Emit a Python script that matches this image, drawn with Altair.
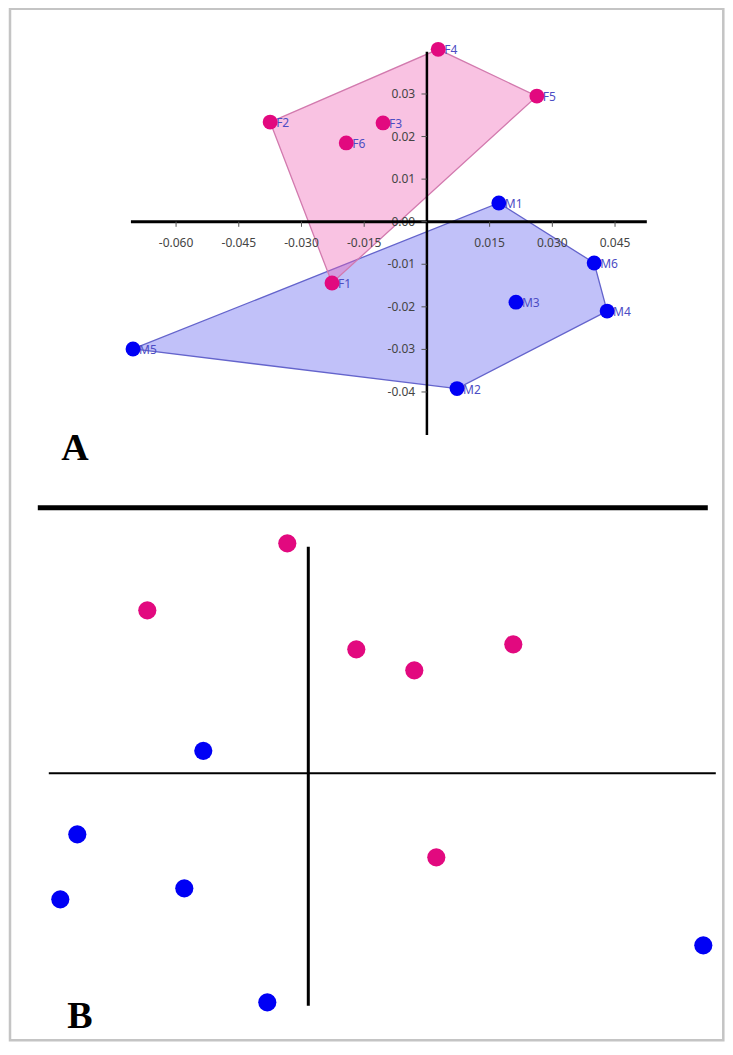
import altair as alt
import pandas as pd

# ---------------- Panel A data (PCA scores) ----------------
a_names = ["F1", "F2", "F3", "F4", "F5", "F6", "M1", "M2", "M3", "M4", "M5", "M6"]
a_x = [-0.0227, -0.0375, -0.0105, 0.0027, 0.0263, -0.0193,
       0.0172, 0.0072, 0.0213, 0.0431, -0.0703, 0.0400]
a_y = [-0.0144, 0.0234, 0.0232, 0.0405, 0.0295, 0.0185,
       0.0044, -0.0392, -0.0189, -0.0210, -0.0299, -0.0097]

pink_hull = ["F2", "F4", "F5", "F1", "F2"]
blue_hull = ["M5", "M1", "M6", "M4", "M2", "M5"]

a_xticks = [-0.060, -0.045, -0.030, -0.015, 0.015, 0.030, 0.045]
a_xtick_labels = ["-0.060", "-0.045", "-0.030", "-0.015", "0.015", "0.030", "0.045"]
a_yticks = [0.03, 0.02, 0.01, 0.00, -0.01, -0.02, -0.03, -0.04]
a_ytick_labels = ["0.03", "0.02", "0.01", "0.00", "-0.01", "-0.02", "-0.03", "-0.04"]

a_xaxis_extent = [-0.0708, 0.0526]
a_yaxis_extent = [-0.0501, 0.0399]

# ---------------- Panel B data ----------------
b_f_x = [-0.42, -3.22, 0.96, 2.12, 4.10, 2.56]
b_f_y = [4.60, 3.26, 2.48, 2.06, 2.58, -1.68]
b_m_x = [-2.10, -4.62, -4.96, -2.48, -0.82, 7.90]
b_m_y = [0.45, -1.22, -2.52, -2.30, -4.58, -3.44]

b_xaxis_extent = [-5.19, 8.15]
b_yaxis_extent = [-4.65, 4.53]

# ---------------- scales ----------------
W, H = 717, 1034
AX = alt.Scale(domain=[-0.1002, 0.0713], nice=False, zero=False)
AY = alt.Scale(domain=[-0.1927, 0.0502], nice=False, zero=False)
BX = alt.Scale(domain=[-6.006, 8.334], nice=False, zero=False)
BY = alt.Scale(domain=[-5.374, 15.306], nice=False, zero=False)

PINK = "#e2097f"
BLUE = "#0000f5"


def ax(f):
    return alt.X(f, type="quantitative", scale=AX, axis=None)


def ay(f):
    return alt.Y(f, type="quantitative", scale=AY, axis=None)


def bx(f):
    return alt.X(f, type="quantitative", scale=BX, axis=None)


def by(f):
    return alt.Y(f, type="quantitative", scale=BY, axis=None)


pts = pd.DataFrame({"name": a_names, "x": a_x, "y": a_y})
pts["grp"] = pts["name"].str[0]
lookup = {n: (x, y) for n, x, y in zip(a_names, a_x, a_y)}


def hull_df(order):
    return pd.DataFrame({
        "i": list(range(len(order))),
        "x": [lookup[n][0] for n in order],
        "y": [lookup[n][1] for n in order],
    })


blue_poly = alt.Chart(hull_df(blue_hull)).mark_line(
    fill="#5b5bf0", fillOpacity=0.38, stroke="#6464cc", strokeWidth=1.3
).encode(x=ax("x"), y=ay("y"), order="i:Q")

pink_poly = alt.Chart(hull_df(pink_hull)).mark_line(
    fill="#ee5fb4", fillOpacity=0.38, stroke="#d27aae", strokeWidth=1.3
).encode(x=ax("x"), y=ay("y"), order="i:Q")

xt = pd.DataFrame({"v": a_xticks, "lab": a_xtick_labels, "z": 0.0, "t": -0.0012, "ly": -0.0050})
yt = pd.DataFrame({"v": a_yticks, "lab": a_ytick_labels, "z": 0.0, "t": -0.0013, "lx": -0.0028})

x_tick_rules = alt.Chart(xt).mark_rule(color="#555555", strokeWidth=1).encode(
    x=ax("v"), y=ay("z"), y2="t")
y_tick_rules = alt.Chart(yt).mark_rule(color="#555555", strokeWidth=1).encode(
    x=ax("t"), x2="z", y=ay("v"))

x_tick_text = alt.Chart(xt).mark_text(
    font="Noto Sans", fontSize=12, color="#444444", align="center", baseline="middle"
).encode(x=ax("v"), y=ay("ly"), text="lab")
y_tick_text = alt.Chart(yt).mark_text(
    font="Noto Sans", fontSize=12, color="#444444", align="right", baseline="middle"
).encode(x=ax("lx"), y=ay("v"), text="lab")

axes_a = pd.DataFrame({"x0": [a_xaxis_extent[0]], "x1": [a_xaxis_extent[1]],
                       "y0": [a_yaxis_extent[0]], "y1": [a_yaxis_extent[1]], "z": [0.0]})
a_hline = alt.Chart(axes_a).mark_rule(color="black", strokeWidth=3).encode(
    x=ax("x0"), x2="x1", y=ay("z"))
a_vline = alt.Chart(axes_a).mark_rule(color="black", strokeWidth=2.5).encode(
    x=ax("z"), y=ay("y0"), y2="y1")

pt_labels = alt.Chart(pts).mark_text(
    font="Noto Sans", fontSize=12, color="#4d4dc4", align="left", baseline="middle", dx=6, dy=1
).encode(x=ax("x"), y=ay("y"), text="name")

a_points = alt.Chart(pts).mark_circle(size=220, opacity=1).encode(
    x=ax("x"), y=ay("y"),
    color=alt.Color("grp:N", scale=alt.Scale(domain=["F", "M"], range=[PINK, BLUE]), legend=None))

a_letter = alt.Chart(pd.DataFrame({"x": [-0.0842], "y": [-0.0534], "t": ["A"]})).mark_text(
    font="Liberation Serif", fontSize=38, fontWeight="bold", color="black",
    align="center", baseline="middle"
).encode(x=ax("x"), y=ay("y"), text="t")

# ---------------- Panel B layers ----------------
bpts = pd.DataFrame({
    "x": b_f_x + b_m_x,
    "y": b_f_y + b_m_y,
    "grp": ["F"] * len(b_f_x) + ["M"] * len(b_m_x),
})

sep = alt.Chart(pd.DataFrame({"x0": [-5.41], "x1": [7.99], "y": [5.31]})).mark_rule(
    color="black", strokeWidth=5).encode(x=bx("x0"), x2="x1", y=by("y"))

axes_b = pd.DataFrame({"x0": [b_xaxis_extent[0]], "x1": [b_xaxis_extent[1]],
                       "y0": [b_yaxis_extent[0]], "y1": [b_yaxis_extent[1]], "z": [0.0]})
b_hline = alt.Chart(axes_b).mark_rule(color="black", strokeWidth=2).encode(
    x=bx("x0"), x2="x1", y=by("z"))
b_vline = alt.Chart(axes_b).mark_rule(color="black", strokeWidth=3).encode(
    x=bx("z"), y=by("y0"), y2="y1")

b_points = alt.Chart(bpts).mark_circle(size=330, opacity=1).encode(
    x=bx("x"), y=by("y"),
    color=alt.Color("grp:N", scale=alt.Scale(domain=["F", "M"], range=[PINK, BLUE]), legend=None))

b_letter = alt.Chart(pd.DataFrame({"x": [-4.57], "y": [-4.87], "t": ["B"]})).mark_text(
    font="Liberation Serif", fontSize=38, fontWeight="bold", color="black",
    align="center", baseline="middle"
).encode(x=bx("x"), y=by("y"), text="t")

frame = alt.Chart(pd.DataFrame({"x0": [-5.966], "x1": [8.30], "y0": [-5.34], "y1": [15.29]})).mark_rect(
    fillOpacity=0, stroke="#c4c4c4", strokeWidth=2.5
).encode(x=bx("x0"), x2="x1", y=by("y0"), y2="y1")

chart = alt.layer(
    blue_poly, pink_poly,
    x_tick_text, y_tick_text,
    a_hline, a_vline, x_tick_rules, y_tick_rules,
    pt_labels, a_points, a_letter,
    sep, b_hline, b_vline, b_points, b_letter, frame,
).resolve_scale(x="independent", y="independent", color="independent").properties(
    width=W, height=H, padding=0, autosize=alt.AutoSizeParams(type="none")
).configure_view(stroke=None)

chart.save("out.html", embed_options={"renderer": "svg", "actions": False})
